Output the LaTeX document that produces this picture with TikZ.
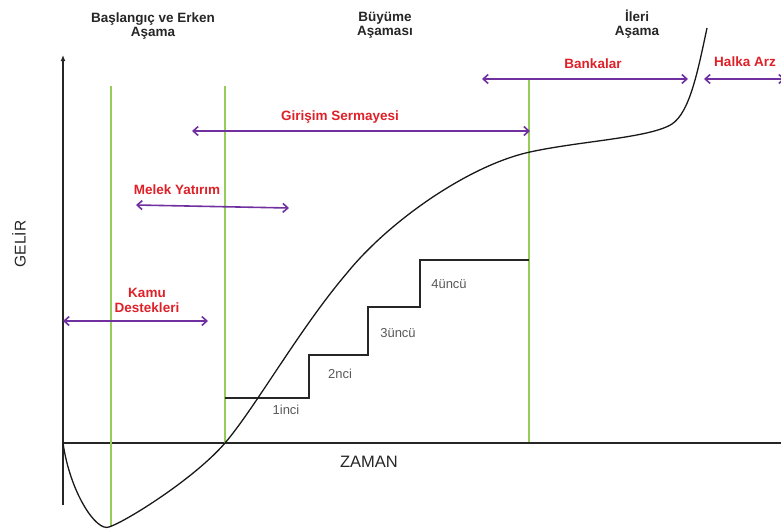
\documentclass[tikz,border=0pt]{standalone}
\usepackage{fontspec}
\setmainfont{Liberation Sans}
\usetikzlibrary{arrows.meta}
\definecolor{gline}{RGB}{150,205,90}
\definecolor{purp}{RGB}{112,48,160}
\definecolor{redlab}{RGB}{222,32,40}
\tikzset{
  head/.style={font=\fontsize{13.5}{14.5}\selectfont\bfseries, align=center, text=black!85, inner sep=0pt},
  fund/.style={font=\fontsize{13.5}{15}\selectfont\bfseries, align=center, text=redlab, inner sep=0pt},
  steplab/.style={font=\fontsize{13}{14}\selectfont, text=black!65, inner sep=0pt},
  axlab/.style={font=\fontsize{16.5}{17}\selectfont, text=black!85, inner sep=0pt},
  span/.style={purp, line width=1.6pt, {Straight Barb[length=5pt,width=9pt]}-{Straight Barb[length=5pt,width=9pt]}},
  stage/.style={gline, line width=1.4pt},
  stair/.style={black!85, line width=1.1pt},
}
\begin{document}
\begin{tikzpicture}[x=1pt,y=-1pt]
\useasboundingbox (0,0) rectangle (781,530);
% axes
\coordinate (ybot) at (63,505);
\coordinate (ytop) at (63,55);
\coordinate (org) at (63,443);
\coordinate (xend) at (781,443);
\draw[line width=1.2pt, black!85, -{Latex[length=6pt,width=5pt]}] (ybot) -- (ytop);
\draw[line width=1.2pt, black!85] (org) -- (xend);
% green stage lines
\coordinate (g1t) at (111,86); \coordinate (g1b) at (111,527);
\coordinate (g2t) at (225,86); \coordinate (g2b) at (225,443);
\coordinate (g3t) at (529,79); \coordinate (g3b) at (529,442);
\draw[stage] (g1t) -- (g1b);
\draw[stage] (g2t) -- (g2b);
\draw[stage] (g3t) -- (g3b);
% stairs
\coordinate (s0) at (225,398);
\coordinate (s1) at (309,398);
\coordinate (s2) at (309,355);
\coordinate (s3) at (368,355);
\coordinate (s4) at (368,307);
\coordinate (s5) at (420,307);
\coordinate (s6) at (420,260);
\coordinate (s7) at (529,260);
\draw[stair] (s0) -- (s1) -- (s2) -- (s3) -- (s4) -- (s5) -- (s6) -- (s7);
\node[steplab] (l1) at (286,410) {1inci};
\node[steplab] (l2) at (340,374) {2nci};
\node[steplab] (l3) at (398,333) {3üncü};
\node[steplab] (l4) at (449,284) {4üncü};
% curve
\coordinate (c0) at (63,443);
\coordinate (c1) at (109,527);
\coordinate (c2) at (225,443);
\coordinate (c3) at (347,273);
\coordinate (c4) at (530,152);
\coordinate (c5) at (672,124);
\coordinate (c6) at (707,28);
\draw[line width=1.3pt, black!90]
  (c0) .. controls (70,492) and (96,532) .. (c1)
       .. controls (127,521) and (195,478) .. (c2)
       .. controls (255,408) and (300,328) .. (c3)
       .. controls (390,220) and (470,165) .. (c4)
       .. controls (580,141) and (650,138) .. (c5)
       .. controls (690,112) and (698,70) .. (c6);
% funding spans
\coordinate (k1) at (63,321); \coordinate (k2) at (208,321);
\draw[span] (k1) -- (k2);
\node[fund] (kamu) at (147,300) {Kamu\\Destekleri};
\coordinate (m1) at (136,205); \coordinate (m2) at (289,208);
\draw[span] (m1) -- (m2);
\node[fund] (melek) at (177,190) {Melek Yatırım};
\coordinate (v1) at (192,131); \coordinate (v2) at (530,131);
\draw[span] (v1) -- (v2);
\node[fund] (vc) at (340,117) {Girişim Sermayesi};
\coordinate (b1) at (482,79); \coordinate (b2) at (688,79);
\draw[span] (b1) -- (b2);
\node[fund] (bank) at (593,64) {Bankalar};
\coordinate (h1) at (704,79); \coordinate (h2) at (785,79);
\draw[span] (h1) -- (h2);
\node[fund] (halka) at (745,62) {Halka Arz};
% headers
\node[head] (st1) at (153,26) {Başlangıç ve Erken\\Aşama};
\node[head] (st2) at (385,25) {Büyüme\\Aşaması};
\node[head] (st3) at (637,24) {İleri\\Aşama};
% axis labels
\node[axlab] (zaman) at (369,462) {ZAMAN};
\node[axlab, font=\fontsize{15.5}{16}\selectfont, rotate=90] (gelir) at (19,244) {GELİR};
\end{tikzpicture}
\end{document}
